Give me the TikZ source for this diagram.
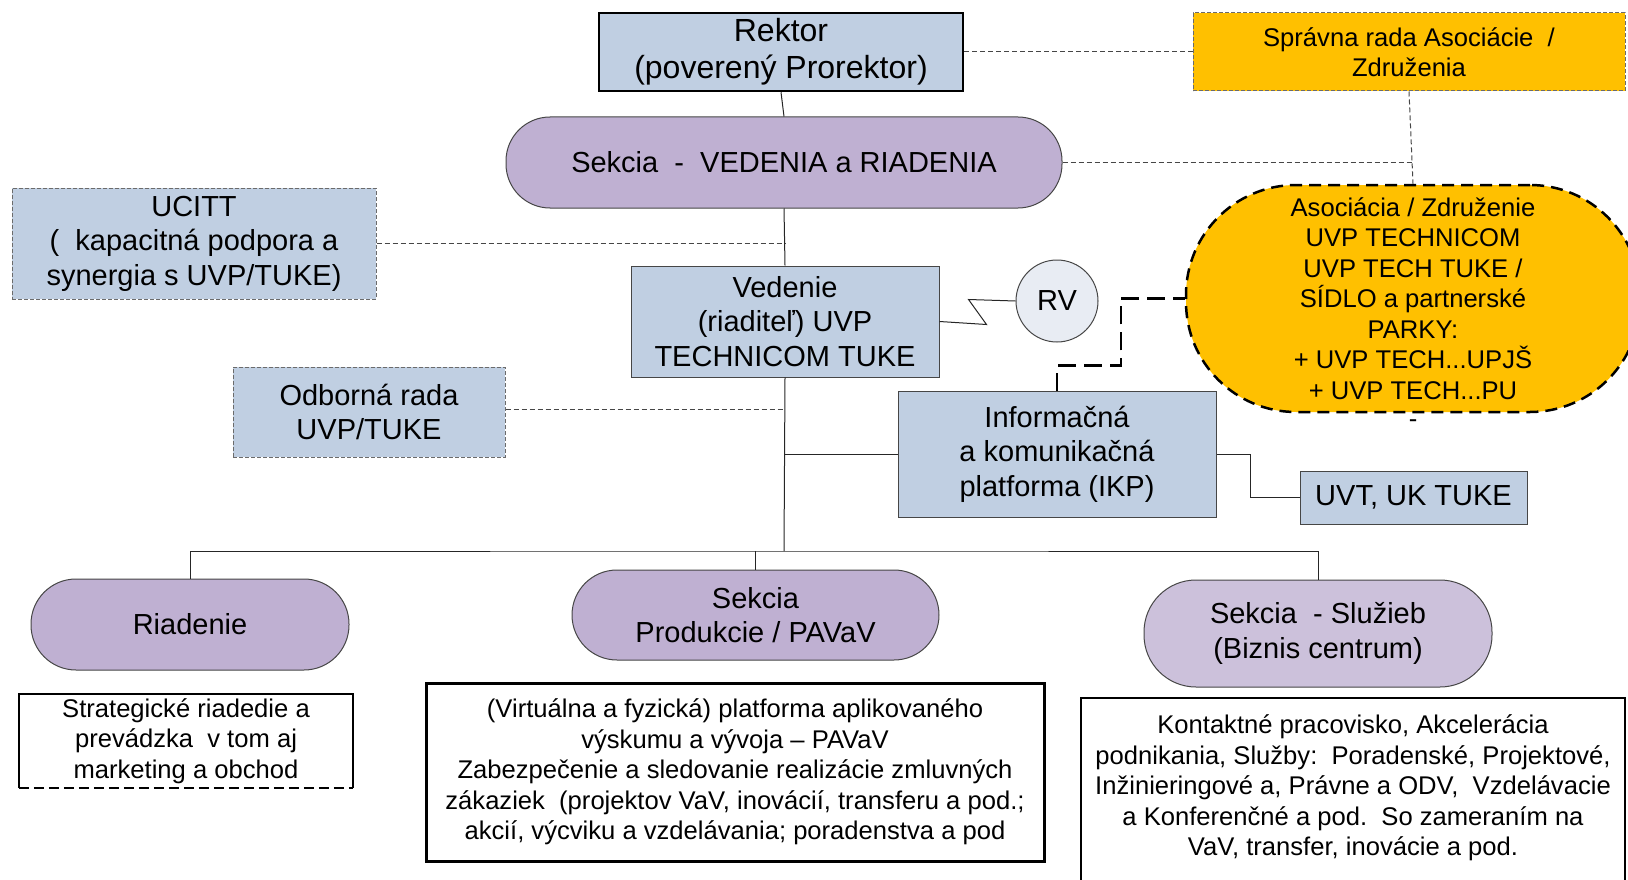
\documentclass[tikz,border=0pt]{standalone}
\usepackage{fontspec}
\setmainfont{Liberation Sans}

\definecolor{boxblue}{RGB}{192,207,226}
\definecolor{secpurple}{RGB}{191,176,210}
\definecolor{secpurplelt}{RGB}{204,193,219}
\definecolor{assocorange}{RGB}{255,192,0}
\definecolor{rvgray}{RGB}{232,236,243}
\definecolor{edgegray}{RGB}{70,70,70}

\newcommand\largetxt{\fontsize{29}{34.5}\selectfont}
\newcommand\smalltxt{\fontsize{25.6}{30.5}\selectfont}

\tikzset{
  unitbox/.style={draw=edgegray, fill=boxblue, line width=1pt, align=center, inner sep=0pt, font=\largetxt},
  sidebox/.style={unitbox, draw=edgegray!80, dash pattern=on 4pt off 2pt},
  section/.style={draw=edgegray, fill=secpurple, line width=1pt, align=center, inner sep=0pt, font=\largetxt},
  textbox/.style={align=center, inner sep=0pt, font=\smalltxt},
  link/.style={line width=1pt, draw=black!85},
  sidelink/.style={line width=1pt, draw=edgegray, dash pattern=on 5pt off 3pt},
}

\begin{document}
\begin{tikzpicture}[x=1pt,y=-1pt]
\useasboundingbox (0,0) rectangle (1628,880);
\clip (0,0) rectangle (1628,880);

% top level
\node[unitbox, draw=black, line width=2.5pt, font=\fontsize{32}{37}\selectfont, minimum width=364pt, minimum height=78pt] (rektor) at (781,52) {Rektor\\(poverený Prorektor)};
\node[sidebox, fill=assocorange, font=\smalltxt, minimum width=432pt, minimum height=78pt] (spravna) at (1409,52) {Správna rada Asociácie\ \ /\\Združenia};
\node[section, rounded corners=44pt, minimum width=556pt, minimum height=91pt] (vedenia) at (784,162.5) {Sekcia\ \ -\ \ VEDENIA a RIADENIA};

% middle
\node[sidebox, minimum width=364pt, minimum height=111pt] (ucitt) at (194,243.5) {UCITT\\(\ \ kapacitná podpora a\\synergia s UVP/TUKE)};
\node[unitbox, minimum width=308pt, minimum height=111pt] (vedenie) at (785,321.5) {Vedenie\\(riaditeľ) UVP\\TECHNICOM TUKE};
\node[circle, draw=edgegray, fill=rvgray, line width=1pt, minimum size=82pt, inner sep=0pt, font=\largetxt] (rv) at (1057,301) {RV};
\node[draw=black, line width=2.5pt, dash pattern=on 12pt off 7pt, fill=assocorange, rounded corners=110pt, minimum width=454pt, minimum height=227pt, align=center, inner sep=0pt, font=\smalltxt] (asoc) at (1413,298.5) {Asociácia / Združenie\\UVP TECHNICOM\\UVP TECH TUKE /\\SÍDLO a partnerské\\PARKY:\\+ UVP TECH...UPJŠ\\+ UVP TECH...PU};
\node[font=\smalltxt, inner sep=0pt] (asocdash) at (1413,424) {-};
\node[sidebox, minimum width=272pt, minimum height=90pt] (odborna) at (369,412) {Odborná rada\\UVP/TUKE};
\node[unitbox, minimum width=318pt, minimum height=126pt] (ikp) at (1057,454) {Informačná\\a komunikačná\\platforma (IKP)};
\node[unitbox, minimum width=227pt, minimum height=53pt] (uvt) at (1413.5,497.5) {UVT, UK TUKE};

% sections
\coordinate (bus) at (784,551);
\node[section, rounded corners=45pt, minimum width=318pt, minimum height=91pt] (riadenie) at (190,624.5) {Riadenie};
\node[section, rounded corners=45pt, minimum width=367pt, minimum height=90pt] (produkcie) at (755.5,615) {Sekcia\\Produkcie / PAVaV};
\node[section, fill=secpurplelt, rounded corners=52pt, minimum width=348pt, minimum height=107pt] (sluzieb) at (1318,633.5) {Sekcia\ \ - Služieb\\(Biznis centrum)};

% descriptions
\node[textbox, minimum width=334pt, minimum height=94pt] (strategia) at (186,741) {Strategické riadedie a\\prevádzka\ \ v tom aj\\marketing a obchod};
\node[textbox, draw=black, line width=3pt, minimum width=618pt, minimum height=178pt] (platforma) at (735,772) {(Virtuálna a fyzická) platforma aplikovaného\\výskumu a vývoja – PAVaV\\Zabezpečenie a sledovanie realizácie zmluvných\\zákaziek\ \ (projektov VaV, inovácií, transferu a pod.;\\akcií, výcviku a vzdelávania; poradenstva a pod};
\node[textbox, minimum width=544pt, minimum height=180pt] (kontakt) at (1353,788) {Kontaktné pracovisko, Akcelerácia\\podnikania, Služby:\ \ Poradenské, Projektové,\\Inžinieringové a, Právne a ODV,\ \ Vzdelávacie\\a Konferenčné a pod.\ \ So zameraním na\\VaV, transfer, inovácie a pod.};
\draw[line width=2.5pt] (strategia.south west) |- (strategia.north east) -- (strategia.south east);
\draw[line width=2pt, dash pattern=on 10pt off 5pt] (strategia.south west) -- (strategia.south east);
\draw[line width=2.5pt] ([yshift=-40pt]kontakt.south west) |- (kontakt.north east) -- ([yshift=-40pt]kontakt.south east);

% connectors
\draw[link] (rektor.south) -- (vedenia.north);
\draw[sidelink] (rektor.east) -- (spravna.west);
\draw[sidelink] (spravna.south) -- (asoc.north);
\draw[sidelink] (vedenia.east) -- (vedenia.east -| asoc.north);
\draw[link] (vedenia.south) -- (vedenie.north);
\draw[sidelink] (ucitt.east) -- (ucitt.east -| vedenie.north);
\draw[sidelink] ([yshift=3pt]odborna.east) -- ([yshift=3pt]odborna.east -| vedenie.south);
\draw[link] (vedenie.east) -- ++(47,3) -- ++(-18,-25) -- (rv.west);
\draw[link] (vedenie.south) -- (bus);
\draw[link] (ikp.west) -- (ikp.west -| vedenie.south);
\draw[link] (ikp.east) -- ++(34,0) |- (uvt.west);
\draw[line width=2.5pt, dash pattern=on 18pt off 8pt] (ikp.north) -- ++(0,-25) -| ([xshift=-64pt]asoc.west) -- (asoc.west);
\draw[link] (riadenie.north) |- (bus) -| (sluzieb.north);
\draw[link] (produkcie.north) -- (produkcie.north |- bus);
\end{tikzpicture}
\end{document}
